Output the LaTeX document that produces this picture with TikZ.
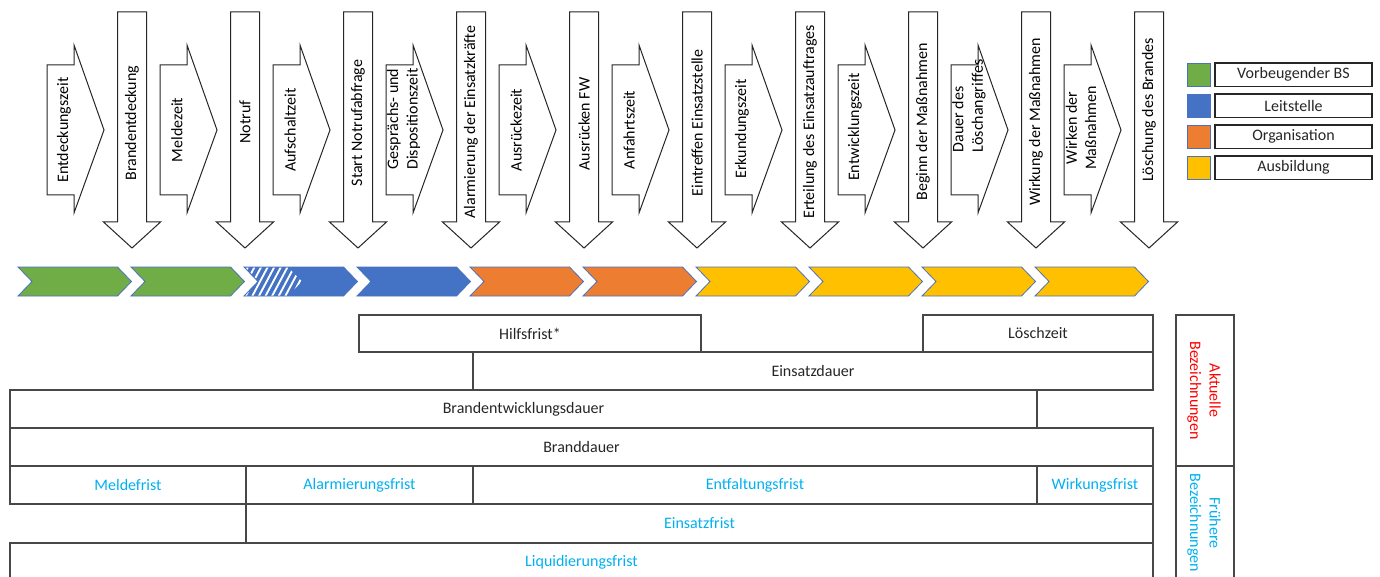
\documentclass[tikz,border=0pt]{standalone}
\usepackage{fontspec}
\setmainfont{Carlito}
\definecolor{cgreen}{HTML}{70AD47}
\definecolor{cblue}{HTML}{4472C4}
\definecolor{corange}{HTML}{ED7D31}
\definecolor{cyellow}{HTML}{FFC000}
\definecolor{cedge}{HTML}{4A72BE}
\definecolor{clight}{HTML}{00B0F0}
\definecolor{cred}{HTML}{FF0000}
\begin{document}
\begin{tikzpicture}[x=0.75pt,y=-0.75pt,
  every node/.style={font=\fontsize{12}{14.6}\selectfont, inner sep=0pt},
  outl/.style={draw=black!85, line width=0.75pt, fill=white},
  chev/.style={draw=cedge, line width=0.6pt},
  tbl/.style={draw=black!72, line width=1.1pt},
  legsq/.style={draw=cedge, line width=0.6pt},
  legbox/.style={draw=black!85, line width=1pt},
  vlab/.style={rotate=90, align=center},
  tlab/.style={text=black!85},
  blab/.style={text=clight},
  downarr/.pic={\draw[outl] (-14.5,12) -- (14.5,12) -- (14.5,222) -- (28.5,222) -- (0,248) -- (-28.5,222) -- (-14.5,222) -- cycle;},
  rightarr/.pic={\draw[outl] (0,65) -- (27,65) -- (27,45) -- (57,130) -- (27,213) -- (27,195) -- (0,195) -- cycle;}
]
\useasboundingbox (0,0) rectangle (1380,577);
\clip (0,0) rectangle (1380,577);

% ---------- down arrows (events)
\foreach \c/\txt/\yy [count=\i] in {132/Brandentdeckung/123, 245/Notruf/122, 358/Start Notrufabfrage/123,
   471/Alarmierung der Einsatzkräfte/122, 584/Ausrücken FW/124, 697/Eintreffen Einsatzstelle/123,
   810/Erteilung des Einsatzauftrages/122, 923/Beginn der Maßnahmen/122, 1036/Wirkung der Maßnahmen/122,
   1149/Löschung des Brandes/110}{
  \pic at (\c,0) {downarr};
  \node[vlab] (ev\i) at (\c,\yy) {\txt};
}

% ---------- right arrows (durations)
\foreach \x in {47,160,273,386,499,612,725,838,951,1064}{
  \pic at (\x,0) {rightarr};
}
\node[vlab] (du1) at (64,130) {Entdeckungszeit};
\node[vlab] (du2) at (177,130) {Meldezeit};
\node[vlab] (du3) at (290,130) {Aufschaltzeit};
\node[vlab] (du4) at (403.5,119) {Gesprächs- und\\Dispositionszeit};
\node[vlab] (du5) at (516,130) {Ausrückezeit};
\node[vlab] (du6) at (629,130) {Anfahrtszeit};
\node[vlab] (du7) at (742,129) {Erkundungszeit};
\node[vlab] (du8) at (855,127) {Entwicklungszeit};
\node[vlab, align=left] (du9) at (969,106) {Dauer des\\Löschangriffes};
\node[vlab] (du10) at (1081,128) {Wirken der\\Maßnahmen};

% ---------- chevron band
\foreach \i/\col in {0/cgreen,1/cgreen,2/cblue,3/cblue,4/corange,5/corange,6/cyellow,7/cyellow,8/cyellow,9/cyellow}{
  \draw[chev, fill=\col] ({18+113*\i},267) -- ++(99.5,0) -- ++(14,14.5) -- ++(-14,14.5) -- ++(-99.5,0) -- ++(14,-14.5) -- cycle;
}
\begin{scope}
  \clip (245.5,267.5) -- (288,267.5) -- (302,281.5) -- (288,295.5) -- (245.5,295.5) -- (259,281.5) -- cycle;
  \foreach \k in {0,...,11}{
    \draw[white, line width=1.4pt] ({232+6.6*\k},297) -- ++(17,-32);
  }
\end{scope}

% ---------- legend
\foreach \yy/\col/\txt [count=\i] in {63/cgreen/Vorbeugender BS, 94/cblue/Leitstelle, 125/corange/Organisation, 156/cyellow/Ausbildung}{
  \draw[legsq, fill=\col] (1187,\yy) rectangle (1210,\yy+23.5);
  \draw[legbox] (1215,\yy) rectangle (1372,\yy+23.5);
  \node[tlab] (leg\i) at (1293.5,\yy+11.75) {\txt};
}

% ---------- table of periods
\draw[tbl] (359,315) rectangle (701,352);
\node[tlab] (hilfs) at (530,333.5) {Hilfsfrist*};
\draw[tbl] (923,315) rectangle (1153,352);
\node[tlab] (loesch) at (1038,333.5) {Löschzeit};
\draw[tbl] (473,352) rectangle (1153,390);
\node[tlab] (einsd) at (813,371) {Einsatzdauer};
\draw[tbl] (10,390) rectangle (1037,428);
\node[tlab] (bed) at (523.5,409) {Brandentwicklungsdauer};
\draw[tbl] (10,428) rectangle (1153,466);
\node[tlab] (bd) at (581.5,447) {Branddauer};
\draw[tbl] (10,466) rectangle (246,504);
\node[blab] (mf) at (128,485) {Meldefrist};
\draw[tbl] (246,466) rectangle (473,504);
\node[blab] (af) at (359.5,485) {Alarmierungsfrist};
\draw[tbl] (473,466) rectangle (1037,504);
\node[blab] (ef) at (755,485) {Entfaltungsfrist};
\draw[tbl] (1037,466) rectangle (1153,504);
\node[blab] (wf) at (1095,485) {Wirkungsfrist};
\draw[tbl] (246,504) rectangle (1153,543);
\node[blab] (eif) at (699.5,523.5) {Einsatzfrist};
\draw[tbl] (10,543) rectangle (1153,581);
\node[blab] (lf) at (581.5,562) {Liquidierungsfrist};

% ---------- side captions
\draw[tbl] (1176,315) rectangle (1234,466);
\node[rotate=-90, align=center, text=cred] (akt) at (1204,390.5) {Aktuelle\\Bezeichnungen};
\draw[tbl] (1176,466) rectangle (1234,581);
\node[rotate=-90, align=center, text=clight] (fru) at (1204,523) {Frühere\\Bezeichnungen};
\end{tikzpicture}
\end{document}
